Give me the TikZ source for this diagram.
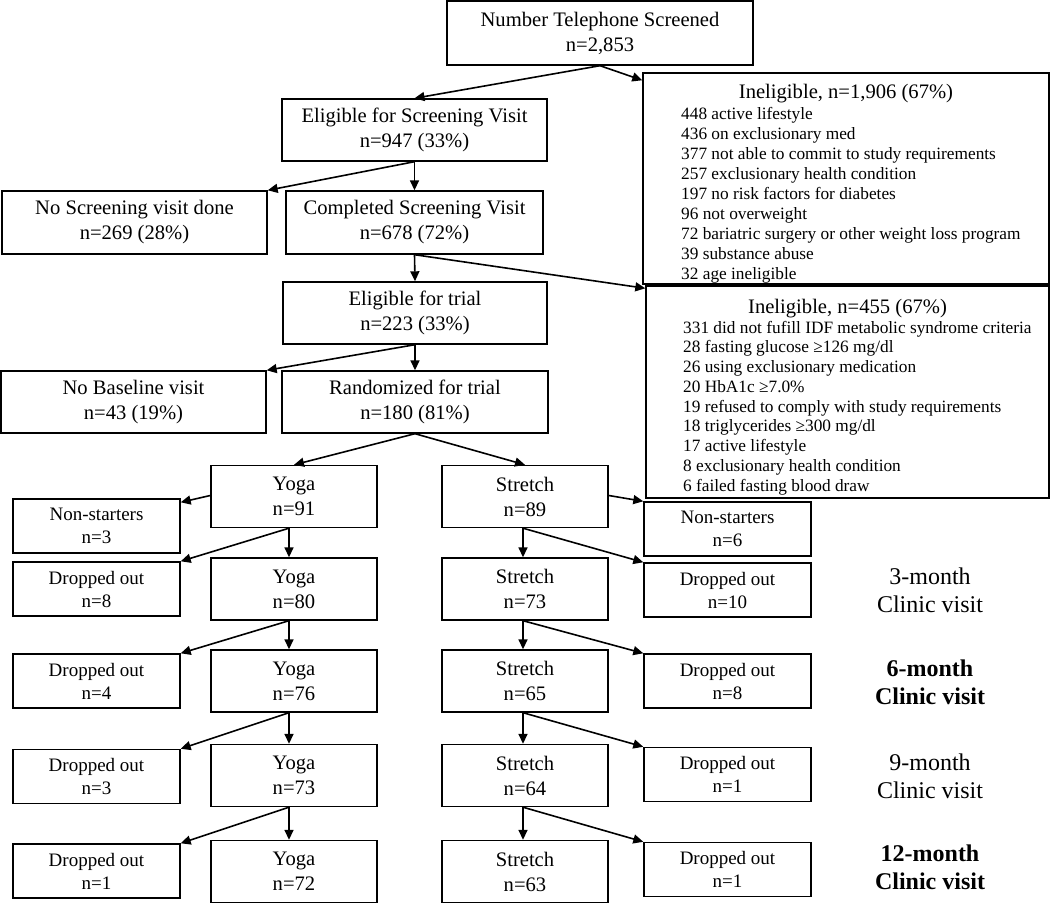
\documentclass[tikz,border=0pt]{standalone}
\usepackage{fontspec}
\setmainfont{Liberation Serif}
\usetikzlibrary{arrows.meta}
\newcommand\fsMain{\fontsize{20.6}{25}\selectfont}
\newcommand\fsSmall{\fontsize{19}{23}\selectfont}
\newcommand\fsList{\fontsize{17.3}{19.9}\selectfont}
\newcommand\fsLab{\fontsize{24}{28}\selectfont}
\begin{document}
\begin{tikzpicture}[x=1pt,y=-1pt,
  box/.style={draw, line width=1.4pt, inner sep=0pt, align=center, font=\fsMain},
  mbox/.style={box, minimum width=166pt, minimum height=62pt},
  sbox/.style={box, font=\fsSmall, minimum width=167pt, minimum height=54pt},
  lab/.style={align=center, font=\fsLab, inner sep=0pt},
  listline/.style={anchor=base west, font=\fsList, inner sep=0pt},
  arr/.style={-{Triangle[length=10pt,width=9pt]}, line width=1.6pt}]
\useasboundingbox (0,0) rectangle (1050,904);

% upper part
\node[box, minimum width=306pt, minimum height=64pt] (top) at (600,33) {Number Telephone Screened\\n=2,853};
\node[box, minimum width=265pt, minimum height=62pt] (elig1) at (414.5,130) {Eligible for Screening Visit\\n=947 (33\%)};
\node[box, minimum width=265pt, minimum height=63pt] (noscr) at (134.5,222.5) {No Screening visit done\\n=269 (28\%)};
\node[box, minimum width=257pt, minimum height=63pt] (compl) at (414.5,222.5) {Completed Screening Visit\\n=678 (72\%)};
\node[box, minimum width=264pt, minimum height=62pt] (elig2) at (415,313) {Eligible for trial\\n=223 (33\%)};
\node[box, minimum width=265pt, minimum height=62pt] (nobase) at (133.5,402) {No Baseline visit\\n=43 (19\%)};
\node[box, minimum width=266pt, minimum height=62pt] (rand) at (415,402) {Randomized for trial\\n=180 (81\%)};

% ineligible boxes
\node[draw, line width=1.4pt, inner sep=0pt, minimum width=406pt, minimum height=211pt] (ine1) at (846,178.5) {};
\node[draw, line width=1.4pt, inner sep=0pt, minimum width=403pt, minimum height=212pt] (ine2) at (847.5,392) {};
\begin{scope}
  \clip (644,74) rectangle (1048,283.3);
  \node[anchor=base, font=\fsMain, inner sep=0pt] (it1) at (846,99) {Ineligible, n=1,906 (67\%)};
  \foreach \t [count=\i] in {448 active lifestyle, 436 on exclusionary med, 377 not able to commit to study requirements, 257 exclusionary health condition, 197 no risk factors for diabetes, 96 not overweight, 72 bariatric surgery or other weight loss program, 39 substance abuse, 32 age ineligible}
    \node[listline] (ia\i) at ({681},{120+19.92*(\i-1)}) {\t};
\end{scope}
\begin{scope}
  \clip (647,287) rectangle (1048,497.3);
  \node[anchor=base, font=\fsMain, inner sep=0pt] (it2) at (847.5,313) {Ineligible, n=455 (67\%)};
  \foreach \t [count=\i] in {331 did not fufill IDF metabolic syndrome criteria, 28 fasting glucose ≥126 mg/dl, 26 using exclusionary medication, 20 HbA1c ≥7.0\%, 19 refused to comply with study requirements, 18 triglycerides ≥300 mg/dl, 17 active lifestyle, 8 exclusionary health condition, 6 failed fasting blood draw}
    \node[listline] (ib\i) at ({683},{333+19.75*(\i-1)}) {\t};
\end{scope}

% arms
\node[mbox] (y1) at (294,496.5) {Yoga\\n=91};
\node[mbox] (y2) at (294,589) {Yoga\\n=80};
\node[mbox] (y3) at (294,681) {Yoga\\n=76};
\node[mbox] (y4) at (294,775.5) {Yoga\\n=73};
\node[mbox] (y5) at (294,871.5) {Yoga\\n=72};
\node[mbox] (s1) at (525,496.5) {Stretch\\n=89};
\node[mbox] (s2) at (525,589) {Stretch\\n=73};
\node[mbox] (s3) at (525,681) {Stretch\\n=65};
\node[mbox] (s4) at (525,775.5) {Stretch\\n=64};
\node[mbox] (s5) at (525,871.5) {Stretch\\n=63};

\node[sbox] (ns1) at (96.5,526) {Non-starters\\n=3};
\node[sbox] (dl1) at (96.5,589) {Dropped out\\n=8};
\node[sbox] (dl2) at (96.5,681) {Dropped out\\n=4};
\node[sbox] (dl3) at (96.5,776.5) {Dropped out\\n=3};
\node[sbox] (dl4) at (96.5,871) {Dropped out\\n=1};
\node[sbox] (ns2) at (727.5,529) {Non-starters\\n=6};
\node[sbox] (dr1) at (727.5,590) {Dropped out\\n=10};
\node[sbox] (dr2) at (727.5,681) {Dropped out\\n=8};
\node[sbox] (dr3) at (727.5,774.5) {Dropped out\\n=1};
\node[sbox] (dr4) at (727.5,869.5) {Dropped out\\n=1};

\node[lab] (l3) at (930,590) {3-month\\Clinic visit};
\node[lab, font=\fsLab\bfseries] (l6) at (930,682) {6-month\\Clinic visit};
\node[lab] (l9) at (930,776) {9-month\\Clinic visit};
\node[lab, font=\fsLab\bfseries] (l12) at (930,867) {12-month\\Clinic visit};

% connectors
\draw[arr] (top.south) -- (elig1.north);
\draw[arr] (top.south) -- ([yshift=-8pt]ine1.north west);
\draw[arr] (elig1.south) -- (noscr.north east);
\draw[arr] (elig1.south) -- (compl.north);
\draw[arr] (compl.south) -- ([yshift=-3pt]ine2.north west);
\draw[arr] (compl.south) -- (elig2.north);
\draw[arr] (elig2.south) -- (nobase.north east);
\draw[arr] (elig2.south) -- (rand.north);
\draw[arr] (rand.south) -- (y1.north);
\draw[arr] (rand.south) -- (s1.north);
\draw[arr] ([yshift=1pt]y1.west) -- ([yshift=-4pt]ns1.north east);
\draw[arr] ([yshift=1pt]s1.east) -- (ns2.north west);
\foreach \i/\j in {1/2,2/3,3/4,4/5} {
  \draw[arr] ([xshift=-5pt]y\i.south) -- ([xshift=-5pt]y\j.north);
  \draw[arr] ([xshift=-5pt]y\i.south) -- (dl\i.north east);
  \draw[arr] ([xshift=-2pt]s\i.south) -- ([xshift=-2pt]s\j.north);
  \draw[arr] ([xshift=-2pt]s\i.south) -- (dr\i.north west);
}
\end{tikzpicture}
\end{document}
